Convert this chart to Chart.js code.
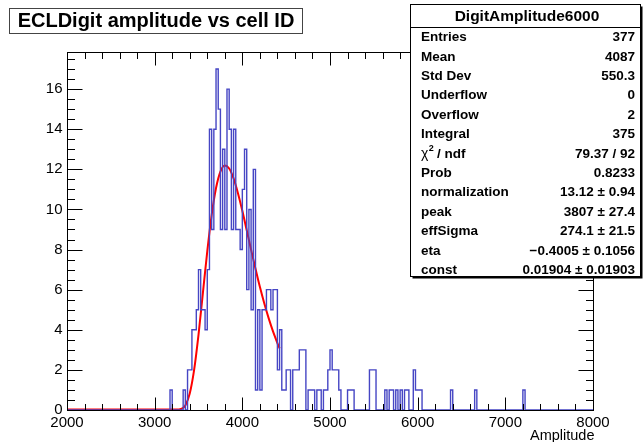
<!DOCTYPE html>
<html>
<head>
<meta charset="utf-8">
<script src="https://cdn.jsdelivr.net/npm/chart.js@4.4.1/dist/chart.umd.min.js"></script>
<style>
  html, body { margin: 0; padding: 0; background: #fff; }
  #wrap { width: 644px; height: 442px; }
</style>
</head>
<body>
<div id="wrap"><canvas id="histo" width="644" height="442"></canvas></div>
<script>
// histogram: lower edges of the filled bins (bin width 25) and their counts
const binLowEdges = [
  3200, 3350, 3400, 3425, 3450, 3475, 3500, 3525, 3550, 3575,
  3600, 3625, 3650, 3675, 3700, 3725, 3750, 3775, 3800, 3825,
  3850, 3875, 3900, 3925, 3950, 3975, 4000, 4025, 4050, 4075,
  4100, 4125, 4150, 4175, 4200, 4225, 4250, 4275, 4300, 4325,
  4350, 4375, 4400, 4425, 4450, 4475, 4500, 4525, 4550, 4600,
  4625, 4650, 4675, 4700, 4725, 4775, 4800, 4825, 4875, 4900,
  4950, 4975, 5000, 5025, 5050, 5075, 5100, 5125, 5225, 5250,
  5275, 5475, 5500, 5525, 5650, 5700, 5725, 5775, 5825, 5875,
  5900, 5975, 6000, 6025, 6050, 6400, 6675, 7225
];
const binCounts = [
  1, 1, 2, 2, 4, 4, 5, 7, 5, 5,
  4, 7, 14, 9, 14, 17, 15, 9, 13, 9,
  16, 14, 9, 14, 9, 9, 8, 11, 13, 6,
  10, 5, 12, 1, 5, 1, 5, 5, 6, 6,
  5, 6, 6, 2, 4, 1, 1, 2, 2, 2,
  2, 2, 3, 3, 3, 1, 1, 1, 1, 1,
  1, 1, 2, 3, 2, 2, 2, 1, 1, 1,
  1, 2, 2, 2, 1, 1, 1, 1, 1, 1,
  1, 2, 1, 1, 1, 1, 1, 1
];
const binWidth = 25;

// Novosibirsk fit curve
const fitX = [2000, 3100, 3150, 3200, 3250, 3300, 3350, 3400, 3450, 3500, 3550, 3600, 3650,
              3700, 3750, 3800, 3850, 3900, 3950, 4000, 4050, 4100, 4150, 4200,
              4250, 4300, 4350, 4400, 4425];
const fitY = [0.02, 0.02, 0.02, 0.02, 0.02, 0.05, 0.23, 0.82, 2.00, 3.75, 5.83, 7.91, 9.72,
              11.07, 11.89, 12.19, 12.04, 11.55, 10.81, 9.93, 8.96, 7.99, 7.04, 6.14,
              5.32, 4.58, 3.92, 3.34, 3.07];

const xTickValues = [2000, 3000, 4000, 5000, 6000, 7000, 8000];
const yTickValues = [0, 2, 4, 6, 8, 10, 12, 14, 16];

const statNames = ['Entries', 'Mean', 'Std Dev', 'Underflow', 'Overflow', 'Integral',
                   'chi2', 'Prob', 'normalization', 'peak', 'effSigma', 'eta', 'const'];
const statValues = ['377', '4087', '550.3', '0', '2', '375', '79.37 / 92', '0.8233',
                    '13.12 \u00b1 0.94', '3807 \u00b1 27.4', '274.1 \u00b1 21.5',
                    '\u22120.4005 \u00b1 0.1056', '0.01904 \u00b1 0.01903'];

const histTitle = 'ECLDigit amplitude vs cell ID';
const statsTitle = 'DigitAmplitude6000';
const xAxisTitle = 'Amplitude';

// build the full step outline, empty bins included
const histPoints = [];
for (let lo = 2000; lo < 8000; lo += binWidth) {
  const k = binLowEdges.indexOf(lo);
  histPoints.push({ x: lo, y: k >= 0 ? binCounts[k] : 0 });
}
histPoints.push({ x: 8000, y: 0 });

const fitPoints = fitX.map((x, i) => ({ x: x, y: fitY[i] }));

const FONT = "'Liberation Sans', Arial, Helvetica, sans-serif";

// ROOT-style frame, inward ticks, labels, title and stats box
const rootFrame = {
  id: 'rootFrame',
  afterDraw(chart) {
    const ctx = chart.ctx;
    const a = chart.chartArea;
    const xs = chart.scales.x;
    const ys = chart.scales.y;
    const L = Math.round(a.left) + 0.5, R = Math.round(a.right) + 0.5;
    const T = Math.round(a.top) + 0.5, B = Math.round(a.bottom) + 0.5;

    ctx.save();
    ctx.strokeStyle = '#000';
    ctx.lineWidth = 1;
    ctx.strokeRect(L, T, R - L, B - T);

    // x ticks, bottom and top
    ctx.beginPath();
    for (let v = 2000; v <= 8000; v += 200) {
      const px = Math.round(xs.getPixelForValue(v)) + 0.5;
      const len = (v % 1000 === 0) ? 13 : 6.5;
      ctx.moveTo(px, B); ctx.lineTo(px, B - len);
      ctx.moveTo(px, T); ctx.lineTo(px, T + len);
    }
    // y ticks, left and right
    for (let v = 0; v <= 17.5; v += 0.5) {
      const py = Math.round(ys.getPixelForValue(v)) + 0.5;
      const len = (v % 2 === 0) ? 15 : 7.5;
      ctx.moveTo(L, py); ctx.lineTo(L + len, py);
      ctx.moveTo(R, py); ctx.lineTo(R - len, py);
    }
    ctx.stroke();

    // tick labels
    ctx.fillStyle = '#000';
    ctx.font = '15px ' + FONT;
    ctx.textAlign = 'center';
    ctx.textBaseline = 'middle';
    xTickValues.forEach(v => {
      ctx.fillText(String(v), xs.getPixelForValue(v), B + 12.5);
    });
    ctx.textAlign = 'right';
    yTickValues.forEach(v => {
      ctx.fillText(String(v), L - 5, ys.getPixelForValue(v));
    });
    ctx.font = '14.5px ' + FONT;
    ctx.fillText(xAxisTitle, R + 1, B + 25);

    // title box
    ctx.fillStyle = '#fff';
    ctx.fillRect(9.5, 8.5, 293, 25);
    ctx.strokeStyle = '#444';
    ctx.strokeRect(9.5, 8.5, 293, 25);
    ctx.fillStyle = '#000';
    ctx.font = 'bold 20px ' + FONT;
    ctx.textAlign = 'center';
    ctx.fillText(histTitle, 156, 21.5);

    // stats box
    const sx = 410.5, sy = 4.5, sw = 230, sh = 272;
    ctx.fillStyle = '#000';
    ctx.fillRect(sx + 2, sy + 2, sw, sh);
    ctx.fillStyle = '#fff';
    ctx.fillRect(sx, sy, sw, sh);
    ctx.strokeStyle = '#000';
    ctx.strokeRect(sx, sy, sw, sh);
    ctx.beginPath();
    ctx.moveTo(sx, 27.5); ctx.lineTo(sx + sw, 27.5);
    ctx.stroke();

    ctx.fillStyle = '#000';
    ctx.font = 'bold 15.5px ' + FONT;
    ctx.textAlign = 'center';
    ctx.fillText(statsTitle, 527, 16.5);

    ctx.font = 'bold 13.5px ' + FONT;
    statNames.forEach((name, i) => {
      const y = 37.5 + i * 19.4;
      ctx.textAlign = 'left';
      if (name === 'chi2') {
        ctx.font = '14px ' + FONT;
        ctx.fillText('\u03c7', 421, y);
        const w = ctx.measureText('\u03c7').width;
        ctx.font = 'bold 9px ' + FONT;
        ctx.fillText('2', 421 + w + 0.5, y - 5);
        ctx.font = 'bold 13.5px ' + FONT;
        ctx.fillText(' / ndf', 421 + w + 5, y);
      } else {
        ctx.fillText(name, 421, y);
      }
      ctx.textAlign = 'right';
      ctx.fillText(statValues[i], 635, y);
    });
    ctx.restore();
  }
};

new Chart(document.getElementById('histo').getContext('2d'), {
  type: 'line',
  data: {
    datasets: [
      {
        label: 'hist',
        data: histPoints,
        stepped: 'after',
        borderColor: '#4646c4',
        borderWidth: 1.4,
        pointRadius: 0,
        fill: false
      },
      {
        label: 'fit',
        data: fitPoints,
        borderColor: '#ff0000',
        borderWidth: 2,
        pointRadius: 0,
        cubicInterpolationMode: 'monotone',
        fill: false
      }
    ]
  },
  options: {
    responsive: false,
    animation: false,
    events: [],
    layout: { padding: { left: 67, right: 51, top: 52, bottom: 32 } },
    scales: {
      x: { type: 'linear', min: 2000, max: 8000, display: false },
      y: { type: 'linear', min: 0, max: 17.85, display: false }
    },
    plugins: {
      legend: { display: false },
      tooltip: { enabled: false }
    }
  },
  plugins: [rootFrame]
});
</script>
</body>
</html>
